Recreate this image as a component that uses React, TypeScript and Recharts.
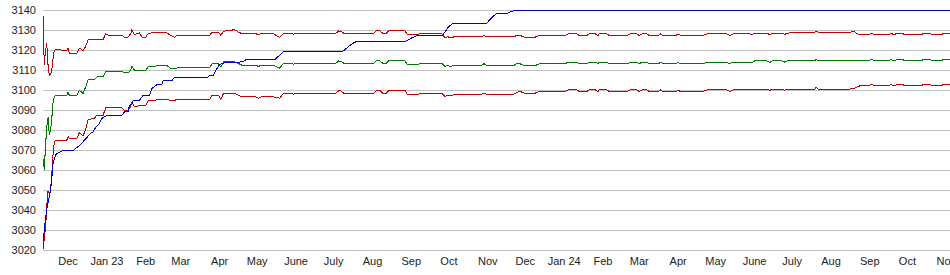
import { LineChart, Line, XAxis, YAxis, CartesianGrid } from "recharts";

// x values are day offsets from the first sample (about 11 Nov 2022)
const monthTicks = [20, 51, 82, 110, 141, 171, 202, 232, 263, 294, 324, 355, 385, 416, 447, 476, 507, 537, 568, 598, 629, 660, 690, 721];
const monthLabels = ["Dec", "Jan 23", "Feb", "Mar", "Apr", "May", "June", "July", "Aug", "Sep", "Oct", "Nov", "Dec", "Jan 24", "Feb", "Mar", "Apr", "May", "June", "July", "Aug", "Sep", "Oct", "Nov"];
const yTicks = [3020, 3030, 3040, 3050, 3060, 3070, 3080, 3090, 3100, 3110, 3120, 3130, 3140];

// band: upper red / green / lower red share the same sample days
const bandDays = [
  0, 1, 2, 3, 4, 5, 6, 7, 8, 9, 10, 19, 20, 21, 27, 29, 32, 34, 36, 41, 43, 48, 50, 53, 63, 65, 68, 70, 71, 73, 77, 79, 82, 84, 89, 91, 99,
  102, 105, 107, 133, 135, 140, 142, 144, 153, 156, 159, 170, 172, 174, 184, 189, 192, 200, 202, 212, 214, 216, 234, 236, 238, 240, 264, 266,
  269, 271, 274, 276, 283, 289, 291, 299, 301, 318, 321, 323, 325, 328, 350, 352, 354, 376, 378, 381, 384, 393, 396, 417, 419, 426, 428, 434,
  436, 441, 443, 444, 450, 452, 466, 469, 474, 476, 478, 482, 484, 491, 493, 495, 505, 507, 509, 527, 530, 546, 548, 551, 564, 566, 568, 578,
  580, 582, 590, 592, 594, 603, 616, 617, 619, 644, 645, 648, 650, 652, 659, 661, 664, 675, 677, 679, 682, 686, 688, 701, 703, 708, 710, 717,
  719, 724,
];
const upperRed = [
  3137.5, 3113, 3120, 3123.5, 3113, 3107.5, 3108, 3110, 3116, 3120, 3120.5, 3120, 3121.2, 3118.7, 3118.7, 3121.2, 3120, 3122, 3125.4, 3125.4,
  3125.4, 3125.4, 3128.4, 3127.5, 3127.5, 3126.7, 3126.7, 3128.4, 3130.4, 3128, 3128.8, 3126.7, 3126.7, 3128.4, 3129.2, 3128.8, 3128.8,
  3127.5, 3126.7, 3127.5, 3127.5, 3129.2, 3129.2, 3127.5, 3129.6, 3130.4, 3129.2, 3128.4, 3128.4, 3127.8, 3128.4, 3128.4, 3126.5, 3128.7,
  3128.2, 3128.7, 3128.7, 3128.2, 3128.7, 3128.7, 3129.8, 3129.6, 3128.7, 3128.7, 3129.8, 3129.8, 3128.7, 3128.7, 3129.8, 3129.8, 3129.8,
  3127.8, 3127.8, 3128.7, 3128.7, 3126.2, 3127, 3126.2, 3126.8, 3126.8, 3127.6, 3126.8, 3126.8, 3127.6, 3127.5, 3126.7, 3126.7, 3127.5,
  3127.5, 3128.3, 3128.3, 3127.5, 3127.5, 3128.3, 3128.3, 3127.5, 3128.3, 3128.3, 3127.5, 3127.5, 3128.3, 3128.3, 3127.5, 3128.3, 3128.3,
  3127.5, 3127.5, 3128.3, 3127.5, 3127.5, 3128.2, 3127.5, 3127.5, 3128.3, 3128.3, 3127.5, 3128.3, 3128.3, 3127.8, 3128.7, 3128.7, 3127.8,
  3128.7, 3128.7, 3128, 3128.7, 3129, 3129, 3129.8, 3129, 3129, 3129.3, 3129.3, 3128.4, 3127.8, 3127.8, 3128.7, 3127.8, 3127.8, 3128.7,
  3127.8, 3128.7, 3128.7, 3127.8, 3127.8, 3128.7, 3128.7, 3127.8, 3127.8, 3128.7, 3128.7,
];
const midGreen = [
  3066, 3060.5, 3072, 3082, 3086.5, 3078, 3080, 3086, 3094, 3097, 3097.6, 3097.6, 3099.3, 3097.6, 3097.6, 3100.1, 3098.5, 3101.8, 3105.4,
  3105.4, 3106.8, 3106.8, 3109.3, 3109.6, 3109.6, 3108.8, 3108.8, 3110, 3112.1, 3110.2, 3110.2, 3109.8, 3109.8, 3112.1, 3112.1, 3112.4,
  3112.4, 3111, 3111, 3111.3, 3111.3, 3113.4, 3113.4, 3111.7, 3114.3, 3114.3, 3113.5, 3112.6, 3112.6, 3112, 3112.6, 3112.6, 3111.2, 3113.7,
  3113.2, 3113.7, 3113.7, 3113.2, 3113.7, 3113.7, 3114.8, 3114.6, 3113.7, 3113.7, 3114.8, 3114.8, 3113.7, 3113.7, 3114.8, 3114.8, 3114.8,
  3112.8, 3112.8, 3113.7, 3113.7, 3112, 3112.7, 3112, 3112.6, 3112.6, 3113.4, 3112.6, 3112.6, 3113.4, 3113.3, 3112.5, 3112.5, 3113.3,
  3113.3, 3114.2, 3114.2, 3113.3, 3113.3, 3114.2, 3114.2, 3113.3, 3114.2, 3114.2, 3113.3, 3113.3, 3114.2, 3114.2, 3113.3, 3114.2, 3114.2,
  3113.3, 3113.3, 3114.2, 3113.3, 3113.3, 3114, 3113.3, 3113.3, 3114.2, 3114.2, 3113.3, 3114.2, 3114.2, 3114, 3114.8, 3114.8, 3114, 3114.8,
  3114.8, 3114.2, 3114.8, 3114.8, 3114.8, 3115.6, 3114.8, 3114.8, 3115.2, 3115.2, 3114.9, 3114.8, 3114.8, 3115.6, 3114.8, 3114.8, 3115.6,
  3114.8, 3115.6, 3115.6, 3114.8, 3114.8, 3115.6, 3115.6, 3114.8, 3114.8, 3115.6, 3115.6,
];
const lowerRed = [
  3020.5, 3026, 3031, 3042, 3049.5, 3048.5, 3050, 3058, 3068, 3074, 3075.2, 3075.2, 3076.9, 3076, 3076, 3078.9, 3077.3, 3080.5, 3085.5,
  3086, 3087.7, 3087.7, 3091.3, 3091.3, 3091.3, 3090.2, 3090.2, 3092, 3094.3, 3091.8, 3092.5, 3092.6, 3092.6, 3095.1, 3095.1, 3095.4,
  3095.4, 3095.1, 3095.1, 3095.5, 3095.5, 3097.6, 3097.6, 3095.5, 3098.5, 3098.5, 3097.6, 3096.8, 3096.8, 3096.2, 3096.8, 3096.8, 3096.2,
  3098.7, 3098.2, 3098.7, 3098.7, 3098.2, 3098.7, 3098.7, 3099.9, 3099.7, 3098.7, 3098.7, 3099.9, 3099.9, 3098.7, 3098.7, 3099.9, 3099.9,
  3099.9, 3097.8, 3097.8, 3098.7, 3098.7, 3097, 3097.7, 3097.2, 3098, 3098, 3098.8, 3098, 3098.2, 3099, 3099.5, 3098.7, 3098.7, 3099.5,
  3099.5, 3100.3, 3100.3, 3099.5, 3099.5, 3100.3, 3100.3, 3099.5, 3100.3, 3100.3, 3099.5, 3099.5, 3100.3, 3100.3, 3099.5, 3100.3, 3100.3,
  3099.5, 3099.5, 3100.3, 3099.5, 3099.5, 3100.1, 3099.5, 3099.5, 3100.3, 3100.3, 3099.5, 3100.3, 3100.3, 3100.3, 3100.7, 3100.7, 3100,
  3100.7, 3100.7, 3100.2, 3100.7, 3100.7, 3100.7, 3101.5, 3100.7, 3100.7, 3101.2, 3101.2, 3101.8, 3102.3, 3102.3, 3103.1, 3102.3, 3102.3,
  3103.1, 3102.3, 3103.1, 3103.1, 3102.3, 3102.3, 3103.1, 3103.1, 3102.3, 3102.3, 3103.1, 3103.1,
];

// blue staircase
const blueDays = [
  0, 1, 2, 3, 4, 5, 6, 7, 8, 10, 12, 16, 24, 26, 29, 32, 35, 38, 40, 42, 45, 47, 50, 52, 63, 65, 68, 69, 71, 72, 77, 80, 85, 87, 90, 92, 95,
  96, 103, 105, 131, 133, 136, 138, 141, 145, 156, 158, 160, 162, 185, 187, 189, 192, 239, 241, 244, 247, 250, 289, 291, 295, 299, 319, 321,
  324, 327, 354, 357, 362, 370, 374, 377, 724,
];
const blueValues = [
  3024.5, 3030, 3036, 3040.3, 3044, 3047, 3050, 3056, 3063.6, 3067.7, 3068.9, 3069.9, 3069.9, 3071, 3072.5, 3074.4, 3076.5, 3078.5, 3079.4,
  3081.5, 3083.5, 3086, 3087.2, 3087.7, 3087.7, 3089.3, 3089.3, 3092.7, 3093, 3095.1, 3095.1, 3097.6, 3097.6, 3101, 3102.6, 3103.1, 3103.1,
  3105.1, 3105.1, 3106.4, 3106.4, 3107.6, 3107.6, 3110, 3113.1, 3113.8, 3113.8, 3114.6, 3114.6, 3115.4, 3115.4, 3116.7, 3117.5, 3119.4,
  3119.4, 3120.5, 3122, 3123.5, 3124.4, 3124.4, 3125.2, 3126.5, 3127.5, 3127.5, 3129.5, 3132, 3133.5, 3133.5, 3135.7, 3138.5, 3138.5,
  3139.5, 3140, 3140,
];

const toPoints = (days: number[], vals: number[]) => days.map((d, i) => ({ d, v: vals[i] }));

const tickStyle = { fontSize: 11, fill: "#222", fontFamily: "Arial, 'Liberation Sans', sans-serif" };

export default function App() {
  return (
    <div style={{ position: "absolute", left: 0, top: 0, width: 950, height: 275, background: "#fff" }}>
      {/* old-style aliased 1px lines */}
      <style>{`.recharts-line-curve { shape-rendering: crispEdges; }`}</style>
      <LineChart width={950} height={275} margin={{ top: 10.5, right: 0, bottom: 0, left: 0 }}>
        <CartesianGrid vertical={false} stroke="#c0c0c0" />
        <XAxis
          type="number"
          dataKey="d"
          domain={[0, 724]}
          ticks={monthTicks}
          interval={0}
          tickFormatter={(v: number) => monthLabels[monthTicks.indexOf(v)] ?? ""}
          axisLine={false}
          tickLine={false}
          tickSize={0}
          tickMargin={7}
          height={24.5}
          tick={tickStyle}
          allowDataOverflow
        />
        <YAxis
          type="number"
          domain={[3020, 3140]}
          ticks={yTicks}
          interval={0}
          axisLine={false}
          tickLine={false}
          tickSize={0}
          tickMargin={7}
          width={43}
          tick={tickStyle}
        />
        <Line data={toPoints(bandDays, lowerRed)} dataKey="v" type="linear" stroke="#c00000" strokeWidth={1} dot={false} isAnimationActive={false} />
        <Line data={toPoints(bandDays, midGreen)} dataKey="v" type="linear" stroke="#007800" strokeWidth={1} dot={false} isAnimationActive={false} />
        <Line data={toPoints(bandDays, upperRed)} dataKey="v" type="linear" stroke="#c00000" strokeWidth={1} dot={false} isAnimationActive={false} />
        <Line data={toPoints(blueDays, blueValues)} dataKey="v" type="linear" stroke="#0000c0" strokeWidth={1} dot={false} isAnimationActive={false} />
      </LineChart>
    </div>
  );
}
